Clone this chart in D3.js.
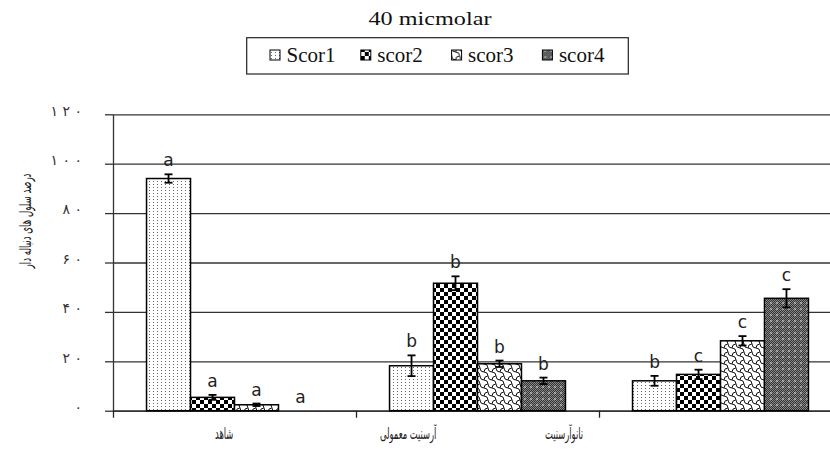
<!DOCTYPE html>
<html>
<head>
<meta charset="utf-8">
<script src="https://cdn.jsdelivr.net/npm/d3@7"></script>
<style>
  html, body { margin: 0; padding: 0; background: #fff; }
  svg { display: block; }
</style>
</head>
<body>
<svg id="chart" width="830" height="465"></svg>
<script>
// Treatment groups (x categories)
const categories = ["شاهد", "آرسنیت معمولی", "نانوآرسنیت"];
// Series (comet score classes)
const seriesNames = ["Scor1", "scor2", "scor3", "scor4"];

// Percentage of comet cells per group, one array per series
const scor1 = [94.0, 18.2, 12.1];
const scor2 = [5.4, 51.6, 14.7];
const scor3 = [2.4, 19.0, 28.3];
const scor4 = [0.0, 12.1, 45.5];

// Error bar half-widths
const err1 = [1.7, 4.2, 2.0];
const err2 = [1.0, 2.8, 1.9];
const err3 = [0.5, 1.3, 1.9];
const err4 = [0.0, 1.3, 3.7];

// Significance letters above bars
const sig1 = ["a", "b", "b"];
const sig2 = ["a", "b", "c"];
const sig3 = ["a", "b", "c"];
const sig4 = ["a", "b", "c"];

// Y axis ticks and their Persian labels
const yTicks = [0, 20, 40, 60, 80, 100, 120];
const yTickLabels = ["۰", "۲۰", "۴۰", "۶۰", "۸۰", "۱۰۰", "۱۲۰"];

const titleText = "40 micmolar";
const yAxisTitle = "درصد سلول های دنباله دار";

const values = [scor1, scor2, scor3, scor4];
const errors = [err1, err2, err3, err4];
const letters = [sig1, sig2, sig3, sig4];

const rows = [];
seriesNames.forEach((s, si) => {
  categories.forEach((c, ci) => {
    rows.push({ series: s, si, category: c, value: values[si][ci], err: errors[si][ci], letter: letters[si][ci] });
  });
});

// ---- layout ----
const W = 830, H = 465;
const plotLeft = 113, plotRight = 842, plotTop = 114.3, plotBottom = 410.7;
const arabicFont = "DejaVu Sans Condensed, DejaVu Sans";

const svg = d3.select("#chart");
const defs = svg.append("defs");

// squeeze a text element horizontally to a fraction of its natural width
function squeeze(sel, k) {
  sel.each(function () {
    const len = this.getComputedTextLength();
    d3.select(this).attr("textLength", len * k).attr("lengthAdjust", "spacingAndGlyphs");
  });
}
// open up the gaps between the glyphs of a short label
function spread(sel, gap) {
  sel.each(function () {
    const n = this.textContent.length;
    if (n < 2) return;
    const len = this.getComputedTextLength();
    d3.select(this).attr("textLength", len + gap * (n - 1)).attr("lengthAdjust", "spacing");
  });
}

// Fill patterns for each series
function pat(id, w, h) {
  return defs.append("pattern").attr("id", id)
    .attr("patternUnits", "userSpaceOnUse").attr("width", w).attr("height", h);
}
// dotted
const p1 = pat("pat0", 4, 3);
p1.append("rect").attr("width", 4).attr("height", 3).attr("fill", "#fff");
p1.append("rect").attr("x", 1).attr("y", 1).attr("width", 1).attr("height", 1).attr("fill", "#666");
// checkerboard
const p2 = pat("pat1", 8, 8);
p2.append("rect").attr("width", 8).attr("height", 8).attr("fill", "#fff");
p2.append("rect").attr("width", 4).attr("height", 4).attr("fill", "#000");
p2.append("rect").attr("x", 4).attr("y", 4).attr("width", 4).attr("height", 4).attr("fill", "#000");
// shingle / wave
const p3 = pat("pat2", 8, 8);
p3.append("rect").attr("width", 8).attr("height", 8).attr("fill", "#fff");
p3.append("path")
  .attr("d", "M0,0 Q0,4 4,4 Q8,4 8,8 M4,4 Q4,0 8,0 M0,8 Q0,4 -4,4 M8,8 Q8,4 12,4")
  .attr("fill", "none").attr("stroke", "#000").attr("stroke-width", 0.9);
// dark stipple
const p4b = pat("pat3base", 2, 2);
p4b.append("rect").attr("width", 2).attr("height", 2).attr("fill", "#333");
p4b.append("rect").attr("width", 1).attr("height", 1).attr("fill", "#888");
p4b.append("rect").attr("x", 1).attr("y", 1).attr("width", 1).attr("height", 1).attr("fill", "#888");
const p4 = pat("pat3", 6, 6);
p4.append("rect").attr("width", 6).attr("height", 6).attr("fill", "url(#pat3base)");
p4.append("path").attr("d", "M3,2 L4,3 L3,4 L2,3 Z").attr("fill", "#ddd");

const fillFor = si => `url(#pat${si})`;

// ---- scales ----
const x0 = d3.scaleBand().domain(categories).range([plotLeft, plotRight])
  .paddingInner(0.276).paddingOuter(0.138);
const x1 = d3.scaleBand().domain(seriesNames).range([0, x0.bandwidth()]);
const y = d3.scaleLinear().domain([0, 120]).range([plotBottom, plotTop]);

// ---- gridlines ----
svg.append("g").attr("transform", `translate(${plotLeft},0)`)
  .call(d3.axisLeft(y).tickValues(yTicks).tickSize(-(W - plotLeft)).tickFormat(""))
  .call(g => g.select(".domain").remove())
  .call(g => g.selectAll("line").attr("stroke", "#333").attr("stroke-width", 1.3));

// ---- y axis ----
svg.append("g").attr("transform", `translate(${plotLeft},0)`)
  .call(d3.axisLeft(y).tickValues(yTicks).tickSize(8).tickSizeOuter(0).tickPadding(23)
    .tickFormat(d => yTickLabels[yTicks.indexOf(d)]))
  .call(g => g.select(".domain").attr("stroke", "#333").attr("stroke-width", 1.3))
  .call(g => g.selectAll("line").attr("stroke", "#333").attr("stroke-width", 1.3))
  .call(g => g.selectAll("text")
    .attr("font-family", "DejaVu Sans").attr("font-size", 14).attr("fill", "#333")
    .attr("dy", "0.05em")
    .call(spread, 4.5));

// ---- x axis with group-boundary ticks ----
const half = x0.step() * x0.paddingInner() / 2;
const boundaries = categories.map(c => x0(c) - half)
  .concat([x0(categories[categories.length - 1]) + x0.bandwidth() + half]);
svg.append("g").attr("transform", `translate(0,${plotBottom})`)
  .call(d3.axisBottom(d3.scaleIdentity().domain([plotLeft, plotRight]))
    .tickValues(boundaries).tickSize(7).tickSizeOuter(0).tickFormat(""))
  .call(g => g.select(".domain").attr("stroke", "#222").attr("stroke-width", 1.3))
  .call(g => g.selectAll("line").attr("stroke", "#222").attr("stroke-width", 1.3));

// category captions
const captionX = d3.scalePoint().domain(categories).range([215, 545]);
svg.append("g").selectAll("text").data(categories).join("text")
  .attr("x", d => captionX(d)).attr("y", 439)
  .attr("text-anchor", "start")
  .attr("font-family", arabicFont).attr("font-size", 16).attr("fill", "#222")
  .text(d => d)
  .call(squeeze, 0.58);

// ---- bars ----
const barG = svg.append("g");
barG.selectAll("rect").data(rows).join("rect")
  .attr("x", d => x0(d.category) + x1(d.series))
  .attr("y", d => y(d.value))
  .attr("width", x1.bandwidth())
  .attr("height", d => y(0) - y(d.value))
  .attr("fill", d => fillFor(d.si))
  .attr("stroke", "#000").attr("stroke-width", 1.5);

// ---- error bars ----
const eb = svg.append("g").attr("stroke", "#000").attr("stroke-width", 1.8);
const withErr = rows.filter(d => d.err > 0);
const cx = d => x0(d.category) + x1(d.series) + x1.bandwidth() / 2;
eb.selectAll(".v").data(withErr).join("line").attr("class", "v")
  .attr("x1", cx).attr("x2", cx)
  .attr("y1", d => y(d.value - d.err)).attr("y2", d => y(d.value + d.err));
eb.selectAll(".t").data(withErr).join("line").attr("class", "t")
  .attr("x1", d => cx(d) - 4).attr("x2", d => cx(d) + 4)
  .attr("y1", d => y(d.value + d.err)).attr("y2", d => y(d.value + d.err));
eb.selectAll(".b").data(withErr).join("line").attr("class", "b")
  .attr("x1", d => cx(d) - 4).attr("x2", d => cx(d) + 4)
  .attr("y1", d => y(d.value - d.err)).attr("y2", d => y(d.value - d.err));

// ---- significance letters ----
svg.append("g").selectAll("text").data(rows).join("text")
  .attr("x", cx)
  .attr("y", d => y(d.value + d.err) - 8)
  .attr("text-anchor", "middle")
  .attr("font-family", "DejaVu Sans").attr("font-size", 17).attr("fill", "#222")
  .text(d => d.letter);

// ---- title ----
svg.append("text").attr("x", 430).attr("y", 25)
  .attr("text-anchor", "middle")
  .attr("font-family", "Liberation Serif").attr("font-size", 18).attr("fill", "#111")
  .attr("textLength", 123).attr("lengthAdjust", "spacingAndGlyphs")
  .text(titleText);

// ---- legend ----
const lg = svg.append("g");
lg.append("rect").attr("x", 246.7).attr("y", 37.7).attr("width", 381.6).attr("height", 36.3)
  .attr("fill", "none").attr("stroke", "#222").attr("stroke-width", 1.2);
const item = lg.selectAll("g").data(seriesNames).join("g")
  .attr("transform", (d, i) => `translate(${270 + i * 90.8},0)`);
item.append("rect").attr("x", 0).attr("y", 50).attr("width", 10).attr("height", 10)
  .attr("fill", (d, i) => fillFor(i)).attr("stroke", "#000").attr("stroke-width", 1);
item.append("text").attr("x", 16.5).attr("y", 62)
  .attr("font-family", "Liberation Serif").attr("font-size", 21).attr("fill", "#111")
  .text(d => d);

// ---- y axis title ----
svg.append("text")
  .attr("transform", "translate(31,221) rotate(-90)")
  .attr("text-anchor", "middle")
  .attr("font-family", arabicFont).attr("font-size", 16).attr("fill", "#222")
  .text(yAxisTitle)
  .call(squeeze, 0.6);
</script>
</body>
</html>
